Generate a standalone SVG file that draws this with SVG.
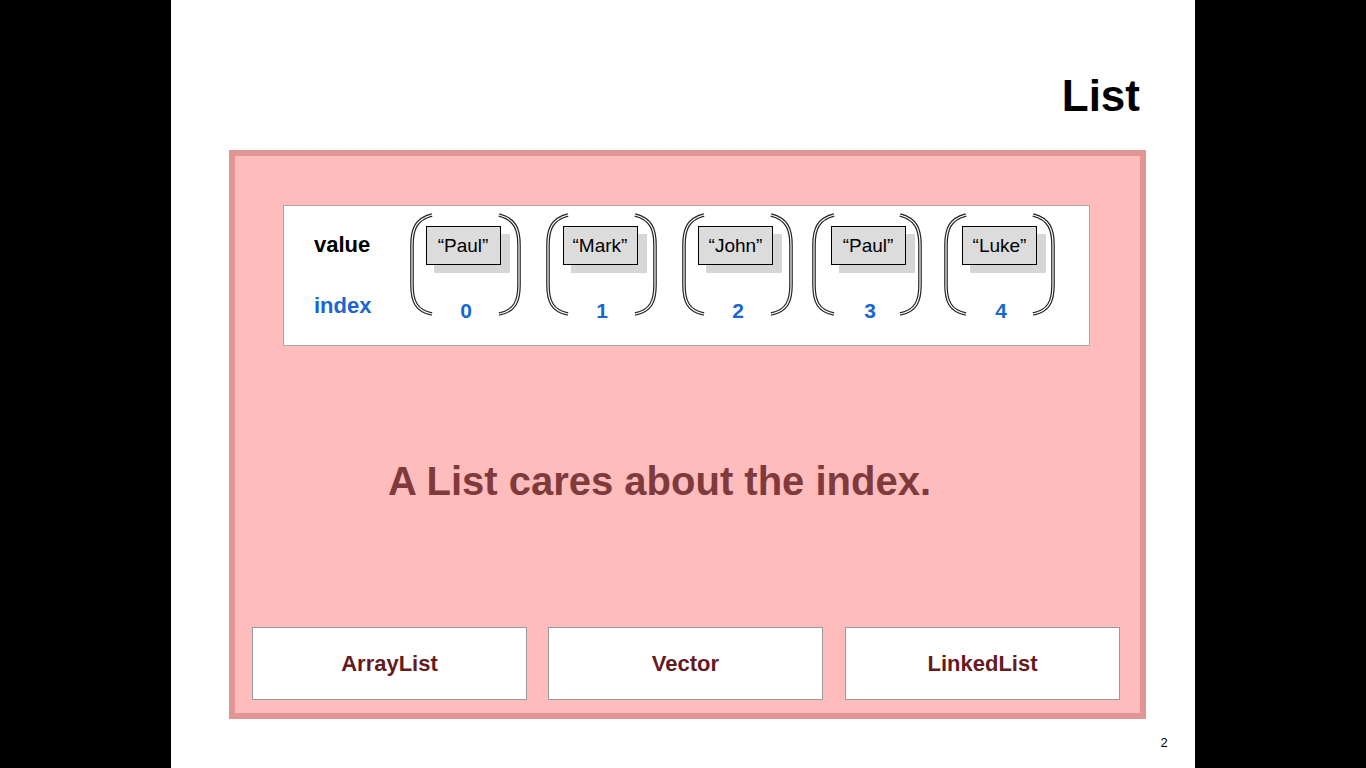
<svg xmlns="http://www.w3.org/2000/svg" width="1366" height="768" viewBox="0 0 1366 768">
<defs>
<style>
text{font-family:"Liberation Sans",Arial,sans-serif}
.b{font-weight:bold}
.idx{font-weight:bold;fill:#1a66d0;font-size:21px;text-anchor:middle}
.val{font-size:19px;fill:#000;text-anchor:middle}
.cell{fill:#dcdcdc;stroke:#000;stroke-width:1}
.sh{fill:#d6d6d6}
.po{fill:none;stroke:#222;stroke-width:3.6}
.pi{fill:none;stroke:#fff;stroke-width:1.2}
.impl{fill:#fff;stroke:#9a9a9a;stroke-width:1}
.impl-t{font-weight:bold;font-size:22px;fill:#651a1e;text-anchor:middle}
</style>
</defs>
<rect x="0" y="0" width="1366" height="768" fill="#000"/>
<rect x="171" y="0" width="1024" height="768" fill="#fff"/>
<text x="1140" y="111" class="b" font-size="44" text-anchor="end" fill="#000">List</text>
<text x="1164" y="747" font-size="13" text-anchor="middle" fill="#000">2</text>
<g id="frame">
<rect x="232" y="153" width="911" height="563" fill="#ffbcbc" stroke="#e29595" stroke-width="6"/>
</g>
<g id="panel">
<rect x="283.5" y="205.5" width="806" height="140" fill="#fff" stroke="#a8a8a8" stroke-width="1"/>
<text x="314" y="252" class="b" font-size="22" fill="#000">value</text>
<text x="314" y="313" class="b" font-size="22" fill="#1a66d0">index</text>
</g>
<g id="item0">
<g transform="translate(412,215)"><path class="po" d="M20,0 C4,4 0,14 0,30 L0,70 C0,86 4,96 20,99"/><path class="pi" d="M20,0 C4,4 0,14 0,30 L0,70 C0,86 4,96 20,99"/></g>
<g transform="translate(519,215) scale(-1,1)"><path class="po" d="M20,0 C4,4 0,14 0,30 L0,70 C0,86 4,96 20,99"/><path class="pi" d="M20,0 C4,4 0,14 0,30 L0,70 C0,86 4,96 20,99"/></g>
<rect class="sh" x="434" y="234" width="76" height="39"/>
<rect class="cell" x="426.5" y="226.5" width="74" height="38"/>
<text class="val" x="463" y="252">“Paul”</text>
<text class="idx" x="466" y="318">0</text>
</g>
<g id="item1">
<g transform="translate(548,215)"><path class="po" d="M20,0 C4,4 0,14 0,30 L0,70 C0,86 4,96 20,99"/><path class="pi" d="M20,0 C4,4 0,14 0,30 L0,70 C0,86 4,96 20,99"/></g>
<g transform="translate(655,215) scale(-1,1)"><path class="po" d="M20,0 C4,4 0,14 0,30 L0,70 C0,86 4,96 20,99"/><path class="pi" d="M20,0 C4,4 0,14 0,30 L0,70 C0,86 4,96 20,99"/></g>
<rect class="sh" x="571" y="234" width="76" height="39"/>
<rect class="cell" x="563.5" y="226.5" width="74" height="38"/>
<text class="val" x="600" y="252">“Mark”</text>
<text class="idx" x="602" y="318">1</text>
</g>
<g id="item2">
<g transform="translate(684,215)"><path class="po" d="M20,0 C4,4 0,14 0,30 L0,70 C0,86 4,96 20,99"/><path class="pi" d="M20,0 C4,4 0,14 0,30 L0,70 C0,86 4,96 20,99"/></g>
<g transform="translate(791,215) scale(-1,1)"><path class="po" d="M20,0 C4,4 0,14 0,30 L0,70 C0,86 4,96 20,99"/><path class="pi" d="M20,0 C4,4 0,14 0,30 L0,70 C0,86 4,96 20,99"/></g>
<rect class="sh" x="706" y="234" width="76" height="39"/>
<rect class="cell" x="698.5" y="226.5" width="74" height="38"/>
<text class="val" x="735.5" y="252">“John”</text>
<text class="idx" x="738" y="318">2</text>
</g>
<g id="item3">
<g transform="translate(814,215)"><path class="po" d="M20,0 C4,4 0,14 0,30 L0,70 C0,86 4,96 20,99"/><path class="pi" d="M20,0 C4,4 0,14 0,30 L0,70 C0,86 4,96 20,99"/></g>
<g transform="translate(920,215) scale(-1,1)"><path class="po" d="M20,0 C4,4 0,14 0,30 L0,70 C0,86 4,96 20,99"/><path class="pi" d="M20,0 C4,4 0,14 0,30 L0,70 C0,86 4,96 20,99"/></g>
<rect class="sh" x="839" y="234" width="76" height="39"/>
<rect class="cell" x="831.5" y="226.5" width="74" height="38"/>
<text class="val" x="868" y="252">“Paul”</text>
<text class="idx" x="870" y="318">3</text>
</g>
<g id="item4">
<g transform="translate(946,215)"><path class="po" d="M20,0 C4,4 0,14 0,30 L0,70 C0,86 4,96 20,99"/><path class="pi" d="M20,0 C4,4 0,14 0,30 L0,70 C0,86 4,96 20,99"/></g>
<g transform="translate(1053,215) scale(-1,1)"><path class="po" d="M20,0 C4,4 0,14 0,30 L0,70 C0,86 4,96 20,99"/><path class="pi" d="M20,0 C4,4 0,14 0,30 L0,70 C0,86 4,96 20,99"/></g>
<rect class="sh" x="970" y="234" width="76" height="39"/>
<rect class="cell" x="962.5" y="226.5" width="74" height="38"/>
<text class="val" x="999.5" y="252">“Luke”</text>
<text class="idx" x="1001" y="318">4</text>
</g>
<text x="659.5" y="495" class="b" font-size="40" text-anchor="middle" fill="#7f3a3c">A List cares about the index.</text>
<g id="arraylist">
<rect class="impl" x="252.5" y="627.5" width="274" height="72"/>
<text class="impl-t" x="389.5" y="671">ArrayList</text>
</g>
<g id="vector">
<rect class="impl" x="548.5" y="627.5" width="274" height="72"/>
<text class="impl-t" x="685.5" y="671">Vector</text>
</g>
<g id="linkedlist">
<rect class="impl" x="845.5" y="627.5" width="274" height="72"/>
<text class="impl-t" x="982.5" y="671">LinkedList</text>
</g>
<g id="connectors"/>
</svg>
